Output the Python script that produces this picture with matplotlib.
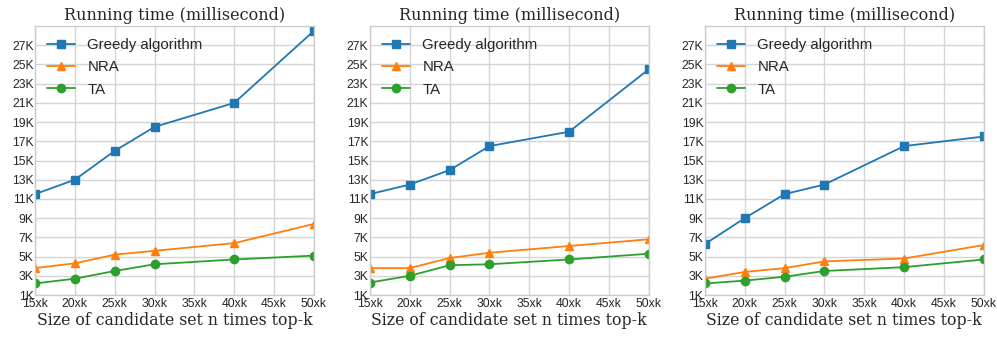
import numpy as np
import matplotlib.pyplot as plt

sizes = [15, 20, 25, 30, 40, 50]

greedy_1 = [11500, 13000, 16000, 18500, 21000, 28500]
nra_1 = [3800, 4300, 5200, 5600, 6400, 8400]
ta_1 = [2200, 2700, 3500, 4200, 4700, 5100]

greedy_2 = [11500, 12500, 14000, 16500, 18000, 24500]
nra_2 = [3800, 3800, 4850, 5400, 6100, 6800]
ta_2 = [2300, 3000, 4100, 4200, 4700, 5300]

greedy_3 = [6300, 9000, 11500, 12500, 16500, 17500]
nra_3 = [2700, 3400, 3800, 4500, 4800, 6200]
ta_3 = [2200, 2500, 2900, 3500, 3900, 4700]

xticks = [15, 20, 25, 30, 35, 40, 45, 50]
xtick_labels = ["15xk", "20xk", "25xk", "30xk", "35xk", "40xk", "45xk", "50xk"]
yticks = list(range(1000, 28000, 2000))
ytick_labels = ["%dK" % (v // 1000) for v in yticks]

panels = [(greedy_1, nra_1, ta_1), (greedy_2, nra_2, ta_2), (greedy_3, nra_3, ta_3)]
lefts = [0.0351, 0.371, 0.707]

plt.style.use("seaborn-v0_8-whitegrid")
fig = plt.figure(figsize=(9.97, 3.37), dpi=100)

for left, (greedy, nra, ta) in zip(lefts, panels):
    ax = fig.add_axes([left, 0.1246, 0.2798, 0.7982])
    ax.plot(sizes, greedy, marker="s", color="#1f77b4", lw=1.3, ms=6, label="Greedy algorithm")
    ax.plot(sizes, nra, marker="^", color="#ff7f0e", lw=1.3, ms=6, label="NRA")
    ax.plot(sizes, ta, marker="o", color="#2ca02c", lw=1.3, ms=6, label="TA")
    ax.set_xlim(15, 50)
    ax.set_ylim(1000, 29000)
    ax.set_xticks(xticks)
    ax.set_xticklabels(xtick_labels, family="Liberation Sans", fontsize=8.8)
    ax.set_yticks(yticks)
    ax.set_yticklabels(ytick_labels, family="Liberation Sans", fontsize=8.8)
    ax.tick_params(axis="y", pad=1, length=0)
    ax.tick_params(axis="x", pad=2.5, length=0)
    ax.grid(True, color="#d5d5d5", lw=1.0)
    for sp in ax.spines.values():
        sp.set_visible(True)
        sp.set_color("#cccccc")
        sp.set_linewidth(1.0)
    ax.set_title("Running time (millisecond)", family="DejaVu Serif", fontsize=11.5, pad=4)
    ax.set_xlabel("Size of candidate set n times top-k", family="DejaVu Serif", fontsize=11.3, labelpad=1)
    ax.legend(loc="upper left", prop={"family": "Liberation Sans", "size": 10.8},
              frameon=False, borderaxespad=0.4, handlelength=1.9, handletextpad=0.8,
              labelspacing=0.55)

fig.savefig("out.png", dpi=100)
